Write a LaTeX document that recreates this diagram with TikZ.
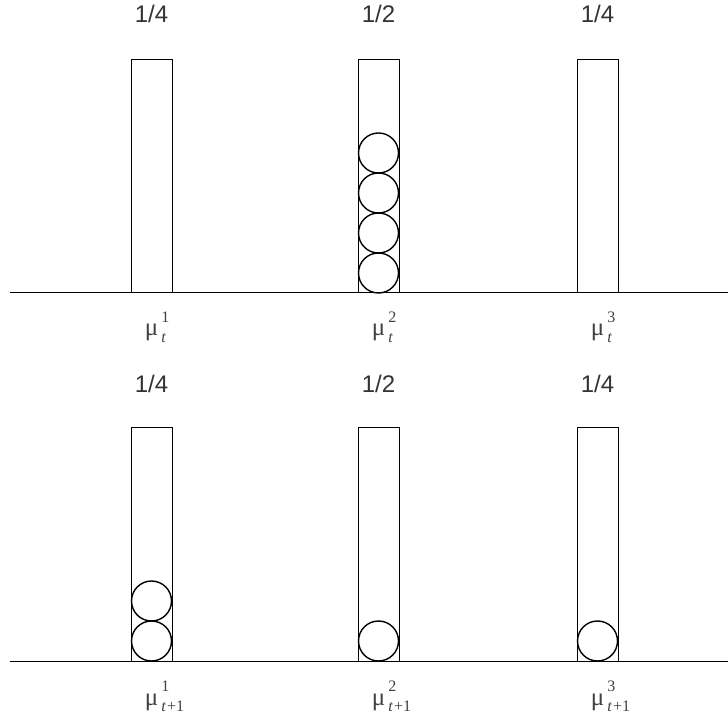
\documentclass[tikz,border=0pt]{standalone}
\usepackage{fontspec}
\setmainfont{Liberation Sans}
\newfontfamily\musym{Liberation Serif}
\newcommand{\idxfont}{\musym\fontsize{8}{9}\selectfont}
\newcommand{\mulabel}[2]{{\musym μ}\kern1.5pt$^{\raisebox{2.5pt}{\idxfont #1}}_{\raisebox{-0.5pt}{\idxfont #2}}$}
\tikzset{
  tube/.style={draw, line width=0.5pt},
  ball/.style={draw, line width=0.7pt},
  prob/.style={font=\fontsize{12}{14}\selectfont, text=black!80, inner sep=0pt},
  mulab/.style={font=\fontsize{12.5}{14}\selectfont, text=black!75, inner sep=0pt, anchor=base west}
}
\begin{document}
\begin{tikzpicture}[x=0.5pt,y=-0.5pt]
  \useasboundingbox (0,0) rectangle (728,721);
  % time t
  \draw[tube] (10,293) -- (728,293);
  \foreach \cx/\p/\n/\i in {151.5/{1/4}/0/1, 378.5/{1/2}/4/2, 597.5/{1/4}/0/3}{
    \draw[tube] (\cx-20.5,293) -- (\cx-20.5,60) -- (\cx+20.5,60) -- (\cx+20.5,293);
    \node[prob] (pt\i) at (\cx,14) {\p};
    \node[mulab] (mt\i) at (\cx-7,336) {\mulabel{\i}{\textit{t}}};
    \ifnum\n>0
      \foreach \k in {1,...,\n}{
        \draw[ball] (\cx,293-40*\k+20) circle [radius=20];
      }
    \fi
  }
  % time t+1
  \draw[tube] (10,661) -- (728,661);
  \foreach \cx/\p/\n/\i in {151.5/{1/4}/2/1, 378.5/{1/2}/1/2, 597.5/{1/4}/1/3}{
    \draw[tube] (\cx-20.5,661) -- (\cx-20.5,428) -- (\cx+20.5,428) -- (\cx+20.5,661);
    \node[prob] (pb\i) at (\cx,384) {\p};
    \node[mulab] (mb\i) at (\cx-7,705) {\mulabel{\i}{\textit{t}\kern0.5pt+1}};
    \foreach \k in {1,...,\n}{
      \draw[ball] (\cx,661-40*\k+20) circle [radius=20];
    }
  }
\end{tikzpicture}
\end{document}
